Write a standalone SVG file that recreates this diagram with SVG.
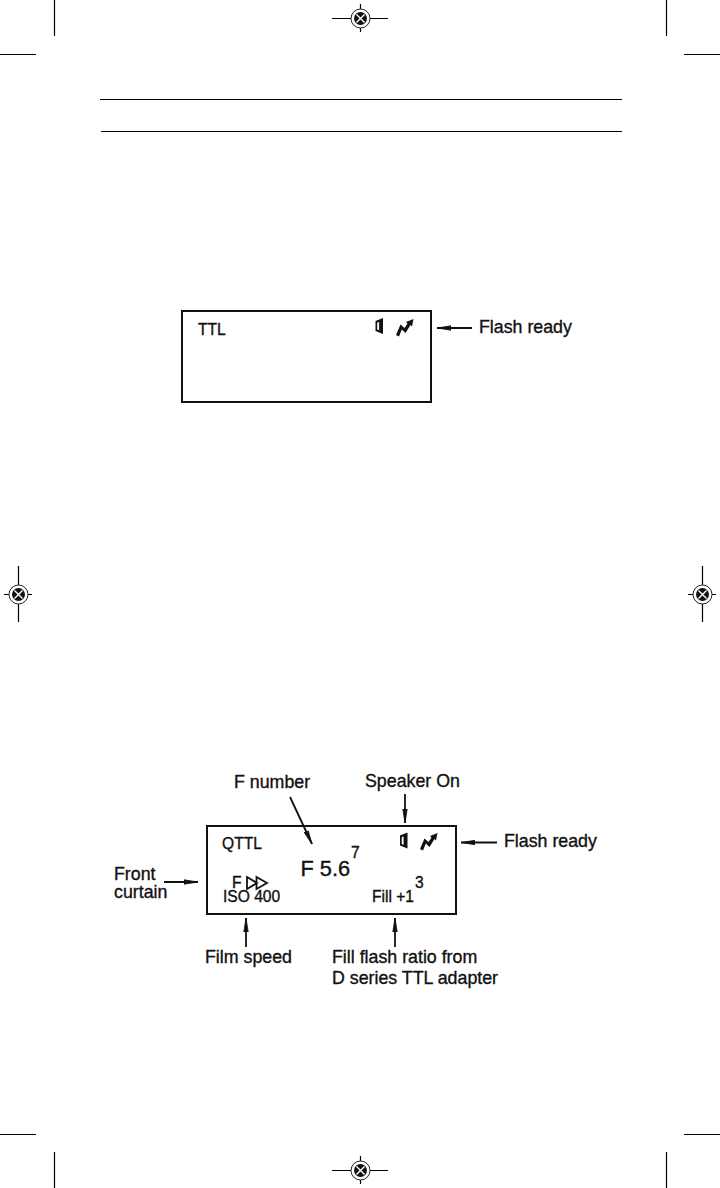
<svg xmlns="http://www.w3.org/2000/svg" width="720" height="1188" viewBox="0 0 720 1188">
<defs>
<style>
text{font-family:"Liberation Sans",Arial,sans-serif;fill:#111;stroke:#111;stroke-width:.35}
.l{font-size:17.800px}
.s{font-size:15.600px}
.box{fill:#fff;stroke:#111;stroke-width:2}
.w{stroke:#111;stroke-width:1.800;fill:none}
.c{stroke:#111;stroke-width:1.800;fill:none;marker-end:url(#a)}
.t{stroke:#000;stroke-width:1.200;fill:none}
.ic{fill:#111;stroke:none}
</style>
<marker id="a" markerUnits="userSpaceOnUse" markerWidth="15" markerHeight="8" refX="14" refY="4" orient="auto"><path d="M0 1.800L14 4L0 6.200Z" fill="#111" stroke="#111" stroke-width=".8"/></marker>
<g id="reg"><circle r="9.500" fill="#fff" stroke="#222" stroke-width="1"/><circle r="6.500" fill="#111"/><path d="M-4 -4L4 4M-4 4L4 -4" stroke="#fff" stroke-width="1.400"/></g>
<g id="spk"><path d="M0 2.500L7.500 -.5V15.500L0 12.500Z M1.700 4.200V11L3.600 11.700V3.500Z" fill-rule="evenodd" class="ic"/></g>
<g id="fl"><path d="M0 13.500L4.500 3L8.500 6.500L11.500 2L10 .5L17.500 -2.500L16 5L14.500 3.500L9.500 11.500L5.800 8L3 15Z" class="ic"/></g>
</defs>
<rect width="720" height="1188" fill="#fff"/>
<g id="crop-marks" class="t">
<path d="M54.500 0V36M0 54.500H36M666.500 0V36M684 54.500H720M54.500 1152V1188M0 1134.500H36M666.500 1152V1188M684 1134.500H720"/>
<path d="M332 18.500H388M360.500 4V32M332 1170.500H388M360.500 1156V1184M4 594.500H32M18.500 566V622M688 594.500H716M702.500 566V622"/>
</g>
<g id="registration-marks">
<use href="#reg" x="360.500" y="18.500"/><use href="#reg" x="360.500" y="1170.500"/><use href="#reg" x="18.500" y="594.500"/><use href="#reg" x="702.500" y="594.500"/>
</g>
<g id="rules" class="t"><path d="M100 99.500H622M101 131.500H622"/></g>
<g id="display-1">
<rect class="box" x="182" y="311" width="249" height="91"/>
<text class="s" x="198" y="335">TTL</text>
<use href="#spk" x="375.500" y="318.500"/><use href="#fl" x="396" y="321.500"/>
</g>
<g id="label-flash-ready-1"><text class="l" x="479" y="333">Flash ready</text></g>
<g id="display-2">
<rect class="box" x="207" y="826" width="249" height="88"/>
<text class="s" x="222" y="849">QTTL</text>
<text x="300.500" y="875.500" style="font-size:21.800px">F 5.6</text>
<text class="s" x="351" y="858">7</text>
<text class="s" x="232" y="887.500">F</text>
<path class="w" d="M247 877L257 883L247 889ZM256.500 877L267 883L256.500 889Z"/>
<text class="s" x="223" y="902">ISO 400</text>
<text class="s" x="372" y="901.500">Fill +1</text>
<text class="s" x="415" y="888">3</text>
<use href="#spk" x="400" y="833"/><use href="#fl" x="420" y="835.500"/>
</g>
<g id="label-f-number"><text class="l" x="234" y="788">F number</text></g>
<g id="label-speaker-on"><text class="l" x="365" y="787">Speaker On</text></g>
<g id="label-flash-ready-2"><text class="l" x="504" y="847">Flash ready</text></g>
<g id="label-front-curtain"><text class="l" x="114" y="880">Front<tspan x="114" y="897.500">curtain</tspan></text></g>
<g id="label-film-speed"><text class="l" x="205" y="963">Film speed</text></g>
<g id="label-fill-flash"><text class="l" x="332" y="963">Fill flash ratio from</text><text class="l" x="332" y="984">D series TTL adapter</text></g>
<g id="connectors">
<path class="c" d="M472 328H437"/>
<path class="c" d="M290 797L312 844"/>
<path class="c" d="M405 794V823"/>
<path class="c" d="M497 842.500H461"/>
<path class="c" d="M164 882H198"/>
<path class="c" d="M246 947V918"/>
<path class="c" d="M395 947V918"/>
</g>
</svg>
